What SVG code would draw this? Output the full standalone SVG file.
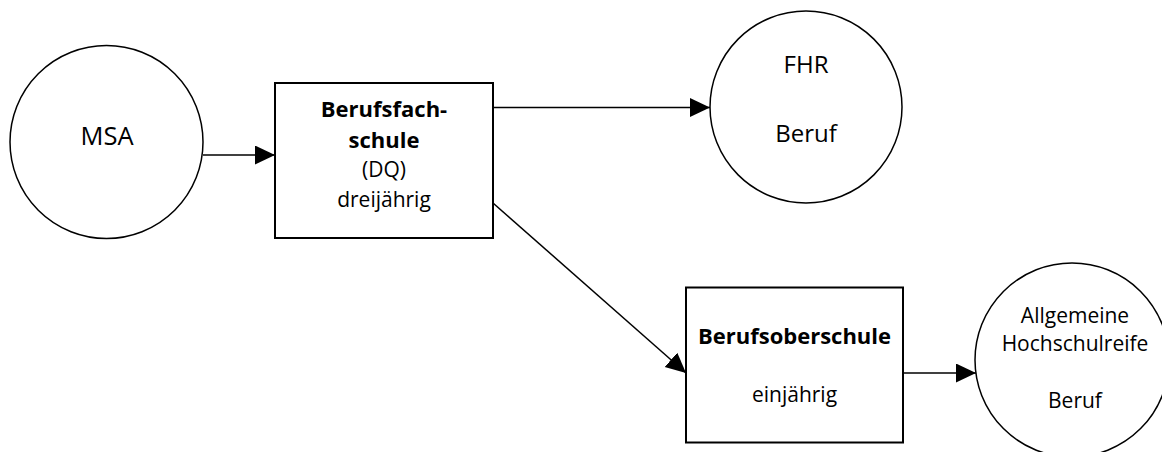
<svg xmlns="http://www.w3.org/2000/svg" width="1162" height="452" viewBox="0 0 1162 452">
<style>
.c{fill:#fff;stroke:#000;stroke-width:1.5}
.b{fill:#fff;stroke:#000;stroke-width:2}
.t{font-family:"Open Sans","Liberation Sans",sans-serif;fill:#000;text-anchor:middle}
.bd{font-weight:bold}
.e{stroke:#000;stroke-width:1.5;fill:none}
</style>
<defs>
<marker id="ah" markerUnits="userSpaceOnUse" markerWidth="21" markerHeight="20" refX="20" refY="9.5" orient="auto">
<path d="M0,0 L20,9.5 L0,19 Z" fill="#000"/>
</marker>
</defs>
<g id="connectors">
<line class="e" x1="203" y1="155" x2="275" y2="155" marker-end="url(#ah)"/>
<line class="e" x1="493" y1="107.5" x2="710" y2="107.5" marker-end="url(#ah)"/>
<line class="e" x1="493" y1="203" x2="686" y2="373" marker-end="url(#ah)"/>
<line class="e" x1="903" y1="373" x2="976" y2="373" marker-end="url(#ah)"/>
</g>
<g id="msa">
<circle class="c" cx="106.5" cy="142" r="96.5"/>
<text class="t" x="107" y="144.5" font-size="25.5">MSA</text>
</g>
<g id="berufsfachschule">
<rect class="b" x="275" y="83" width="218" height="155"/>
<text class="t bd" x="384" y="116.7" font-size="22">Berufsfach-</text>
<text class="t bd" x="384" y="148.3" font-size="22">schule</text>
<text class="t" x="384" y="177.3" font-size="21">(DQ)</text>
<text class="t" x="384" y="206.7" font-size="21">dreijährig</text>
</g>
<g id="fhr">
<circle class="c" cx="806" cy="107" r="96"/>
<text class="t" x="806" y="72.7" font-size="24">FHR</text>
<text class="t" x="806" y="141.7" font-size="24">Beruf</text>
</g>
<g id="berufsoberschule">
<rect class="b" x="686" y="287.5" width="217" height="155"/>
<text class="t bd" x="794.5" y="344" font-size="22">Berufsoberschule</text>
<text class="t" x="794.5" y="401.7" font-size="21">einjährig</text>
</g>
<g id="ahr">
<circle class="c" cx="1072" cy="360" r="97"/>
<text class="t" x="1075" y="322.7" font-size="21">Allgemeine</text>
<text class="t" x="1075" y="351" font-size="21">Hochschulreife</text>
<text class="t" x="1075" y="408.3" font-size="21">Beruf</text>
</g>
</svg>
